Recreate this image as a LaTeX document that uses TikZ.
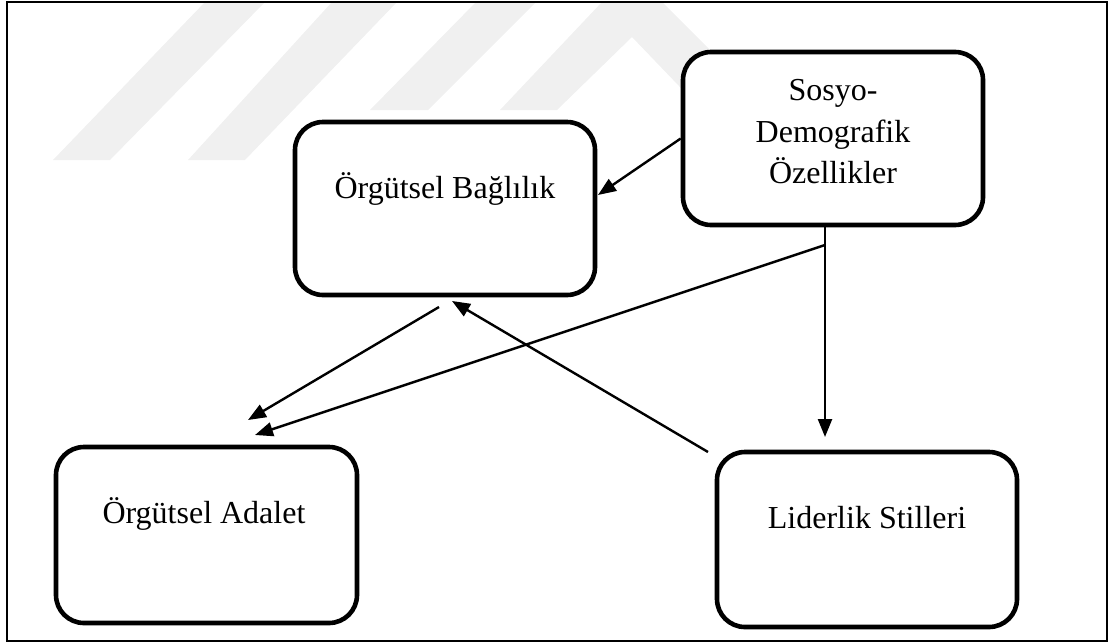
\documentclass[tikz,border=0pt]{standalone}
\usepackage{fontspec}
\setmainfont{Liberation Serif}
\usetikzlibrary{arrows.meta}
\definecolor{wm}{RGB}{240,240,240}
\tikzset{
  box/.style={draw, line width=2.3pt, rounded corners=14pt, fill=white, inner sep=0pt},
  lbl/.style={anchor=base, inner sep=0pt, font=\fontsize{16}{20.5}\selectfont},
  arr/.style={-{Triangle[length=9pt,width=7pt]}, line width=1.2pt},
}
\begin{document}
\begin{tikzpicture}[x=0.5pt,y=-0.5pt]
\useasboundingbox (0,0) rectangle (1113,643);
% watermark
\fill[wm] (53,160) -- (110,160) -- (265,2) -- (205,2) -- cycle;
\fill[wm] (188,160) -- (245,160) -- (397,2) -- (332,2) -- cycle;
\fill[wm] (370,110) -- (428,110) -- (536,2) -- (476,2) -- cycle;
\fill[wm] (500,110) -- (557,110) -- (632,37) -- (702,110) -- (770,110) -- (662,2) -- (602,2) -- cycle;
% frame
\draw[line width=1pt] (7,2) rectangle (1107,641);
% boxes
\node[box, minimum width=150pt, minimum height=86.5pt] (BB) at (445,208.5) {};
\node[box, minimum width=150pt, minimum height=86.5pt] (SD) at (833,138.5) {};
\node[box, minimum width=150.5pt, minimum height=88pt] (OA) at (206.5,535) {};
\node[box, minimum width=150pt, minimum height=87.5pt] (LS) at (867,539.5) {};
% texts
\node[lbl] (tBB) at (445,198) {Örgütsel Bağlılık};
\node[lbl] (tSD1) at (833,100) {Sosyo-};
\node[lbl] (tSD2) at (833,142) {Demografik};
\node[lbl] (tSD3) at (833,183) {Özellikler};
\node[lbl] (tOA) at (204,523) {Örgütsel Adalet};
\node[lbl] (tLS) at (867,528) {Liderlik Stilleri};
% connector end points
\coordinate (a1) at (598,195);
\coordinate (v0) at (825,226);
\coordinate (v1) at (825,437);
\coordinate (d0) at (825,245);
\coordinate (d1) at (255,435);
\coordinate (b0) at (439,307);
\coordinate (b1) at (248,420);
\coordinate (l0) at (708,452);
\coordinate (l1) at (452,301);
% connectors
\draw[arr] (SD.west) -- (a1);
\draw[arr] (v0) -- (v1);
\draw[arr] (d0) -- (d1);
\draw[arr] (b0) -- (b1);
\draw[arr] (l0) -- (l1);
\end{tikzpicture}
\end{document}
